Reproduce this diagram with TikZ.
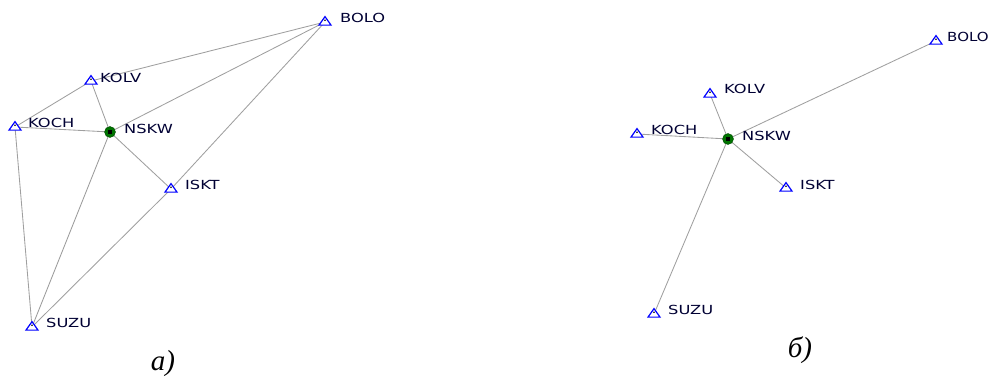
\documentclass[tikz,border=0pt]{standalone}
\usepackage{fontspec}
\setmainfont{Liberation Serif}
\newfontfamily\labelfont{DejaVu Sans}
\usetikzlibrary{shapes.geometric}
\newcommand{\stname}[2][1.3]{\scalebox{#1}[1]{#2}}
\begin{document}
\begin{tikzpicture}[x=1pt,y=-1pt,
  baseline line/.style={draw=gray!75, line width=0.85pt},
  station/.style={isosceles triangle, shape border rotate=90, isosceles triangle stretches,
    minimum width=12pt, minimum height=8.5pt, inner sep=0pt, draw=blue, line width=1.2pt, fill=white,
    path picture={\fill[black] (path picture bounding box.center) ++(0,-0.6) circle (0.9pt);}},
  hub/.style={circle, fill=green!45!black, draw=green!30!black, inner sep=0pt, minimum size=11pt,
    path picture={\fill[black] ([shift={(-2pt,-2pt)}]path picture bounding box.center) rectangle ++(4pt,4pt);}},
  tag/.style={anchor=west, font=\labelfont\fontsize{12.5}{14}\selectfont, text=blue!20!black, inner sep=0pt},
  caption/.style={font=\itshape\fontsize{29}{32}\selectfont}]
\useasboundingbox (0,0) rectangle (992,382);

% ---- left network ----
\coordinate (BOLO) at (325,22);
\coordinate (KOLV) at (91,81);
\coordinate (KOCH) at (15,127);
\coordinate (NSKW) at (110,132);
\coordinate (ISKT) at (171,189);
\coordinate (SUZU) at (32,327);
\foreach \a/\b in {BOLO/KOLV,BOLO/NSKW,BOLO/ISKT,KOLV/KOCH,KOLV/NSKW,KOCH/NSKW,KOCH/SUZU,NSKW/SUZU,NSKW/ISKT,ISKT/SUZU}
  \draw[baseline line] (\a) -- (\b);
\foreach \n in {BOLO,KOLV,KOCH,ISKT,SUZU}
  \node[station] (m\n) at (\n) {};
\node[hub] (mNSKW) at (NSKW) {};
\node[tag] (tBOLO) at (340,18) {\stname{BOLO}};
\node[tag] (tKOLV) at (100,78) {\stname{KOLV}};
\node[tag] (tKOCH) at (28,123) {\stname{KOCH}};
\node[tag] (tNSKW) at (124,129) {\stname{NSKW}};
\node[tag] (tISKT) at (185,185) {\stname{ISKT}};
\node[tag] (tSUZU) at (46,323) {\stname{SUZU}};

% ---- right network ----
\coordinate (rBOLO) at (936,41);
\coordinate (rKOLV) at (710,94);
\coordinate (rKOCH) at (637,134);
\coordinate (rNSKW) at (728,139);
\coordinate (rISKT) at (786,188);
\coordinate (rSUZU) at (654,314);
\foreach \b in {rBOLO,rKOLV,rKOCH,rISKT,rSUZU}
  \draw[baseline line] (rNSKW) -- (\b);
\foreach \n in {rBOLO,rKOLV,rKOCH,rISKT,rSUZU}
  \node[station] (m\n) at (\n) {};
\node[hub] (mrNSKW) at (rNSKW) {};
\node[tag] (trBOLO) at (947,37) {\stname[1.2]{BOLO}};
\node[tag] (trKOLV) at (724,89) {\stname{KOLV}};
\node[tag] (trKOCH) at (651,130) {\stname{KOCH}};
\node[tag] (trNSKW) at (742,136) {\stname{NSKW}};
\node[tag] (trISKT) at (800,185) {\stname{ISKT}};
\node[tag] (trSUZU) at (668,310) {\stname{SUZU}};

% ---- captions ----
\node[caption] (capA) at (163,364) {а)};
\node[caption] (capB) at (800,350) {б)};
\end{tikzpicture}
\end{document}
